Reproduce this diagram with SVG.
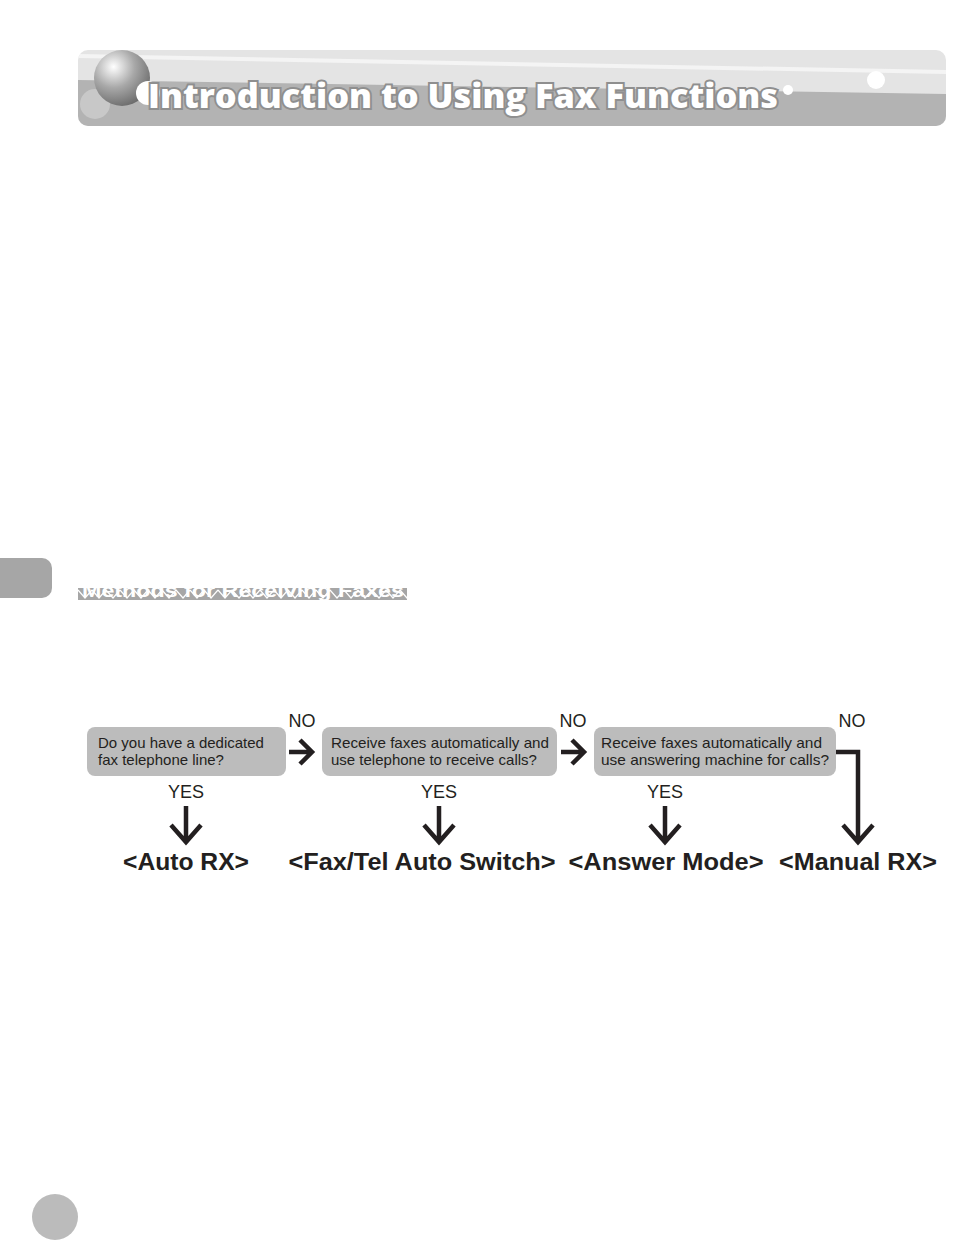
<svg xmlns="http://www.w3.org/2000/svg" width="969" height="1240" viewBox="0 0 969 1240">
<style>
.q{font-family:"Liberation Sans",Arial,sans-serif;font-size:15px;fill:#231f20}
.lbl{font-family:"Liberation Sans",Arial,sans-serif;font-size:18px;fill:#231f20}
.out{font-family:"Liberation Sans",Arial,sans-serif;font-size:23px;font-weight:bold;fill:#231f20}
.box{fill:#bcbcbc}
.arr{fill:none;stroke:#231f20;stroke-width:4.5}
</style>
<defs>
<radialGradient id="sph" cx="0.35" cy="0.3" r="0.75">
<stop offset="0" stop-color="#ffffff"/>
<stop offset="0.5" stop-color="#a8a8a8"/>
<stop offset="1" stop-color="#6a6a6a"/>
</radialGradient>
<clipPath id="bc"><rect x="78" y="50" width="868" height="76" rx="10"/></clipPath>
<pattern id="zz" x="78" y="588" width="14" height="12" patternUnits="userSpaceOnUse">
<rect width="14" height="12" fill="#a6a6a6"/>
<path d="M0 2 L7 10 L14 2" fill="none" stroke="#ffffff" stroke-width="1.2"/>
</pattern>
</defs>
<rect width="969" height="1240" fill="#ffffff"/>
<g id="banner">
<g clip-path="url(#bc)">
<rect x="78" y="50" width="868" height="76" fill="#e4e4e4"/>
<polygon points="78,80 946,94 946,126 78,126" fill="#b3b3b3"/>
<polygon points="78,54 946,70 946,74 78,58" fill="#f4f4f4"/>
</g>
<circle cx="95" cy="104" r="15" fill="#c8c8c8"/>
<circle cx="122" cy="78" r="28" fill="url(#sph)"/>
<circle cx="148" cy="93" r="12" fill="#ffffff"/>
<circle cx="876" cy="80" r="9" fill="#ffffff"/>
<circle cx="788" cy="90" r="5" fill="#ffffff"/>
<text x="148" y="108" textLength="630" lengthAdjust="spacingAndGlyphs" style="font-family:'Open Sans','Liberation Sans',sans-serif;font-size:34px;font-weight:800;fill:#ffffff;stroke:#8f8f8f;stroke-width:4;paint-order:stroke">Introduction to Using Fax Functions</text>
</g>
<g id="tab"><path d="M0 558 H42 A10 10 0 0 1 52 568 V588 A10 10 0 0 1 42 598 H0 Z" fill="#a6a6a6"/></g>
<g id="section-heading">
<rect x="78" y="588" width="329" height="12" fill="url(#zz)"/>
<text x="82" y="597" textLength="322" lengthAdjust="spacingAndGlyphs" style="font-family:'Liberation Sans',Arial,sans-serif;font-size:18px;font-weight:bold;fill:#ffffff">Methods for Receiving Faxes</text>
</g>
<g id="page-circle"><circle cx="55" cy="1217" r="23" fill="#bbbbbb"/></g>
<g id="node-q1">
<rect class="box" x="87" y="727" width="199" height="49" rx="8"/>
<text class="q" x="98" y="748">Do you have a dedicated</text>
<text class="q" x="98" y="765">fax telephone line?</text>
</g>
<g id="node-q2">
<rect class="box" x="322" y="727" width="235" height="49" rx="8"/>
<text class="q" x="331" y="748" textLength="218" lengthAdjust="spacingAndGlyphs">Receive faxes automatically and</text>
<text class="q" x="331" y="765">use telephone to receive calls?</text>
</g>
<g id="node-q3">
<rect class="box" x="594" y="727" width="242" height="49" rx="8"/>
<text class="q" x="601" y="748" textLength="221" lengthAdjust="spacingAndGlyphs">Receive faxes automatically and</text>
<text class="q" x="601" y="765" textLength="228" lengthAdjust="spacingAndGlyphs">use answering machine for calls?</text>
</g>
<g id="node-auto"><text class="out" x="186" y="870" text-anchor="middle" textLength="126" lengthAdjust="spacingAndGlyphs">&lt;Auto RX&gt;</text></g>
<g id="node-faxtel"><text class="out" x="422" y="870" text-anchor="middle" textLength="267" lengthAdjust="spacingAndGlyphs">&lt;Fax/Tel Auto Switch&gt;</text></g>
<g id="node-answer"><text class="out" x="666" y="870" text-anchor="middle" textLength="195" lengthAdjust="spacingAndGlyphs">&lt;Answer Mode&gt;</text></g>
<g id="node-manual"><text class="out" x="858" y="870" text-anchor="middle" textLength="158" lengthAdjust="spacingAndGlyphs">&lt;Manual RX&gt;</text></g>
<g id="connectors">
<path class="arr" d="M289 752 H310 M300 740 L312 752 L300 764"/>
<path class="arr" d="M561 752 H582 M572 740 L584 752 L572 764"/>
<path class="arr" d="M836 752 H858 V842 M843 825 L858 842 L873 825"/>
<path class="arr" d="M186 806 V842 M171 825 L186 842 L201 825"/>
<path class="arr" d="M439 806 V842 M424 825 L439 842 L454 825"/>
<path class="arr" d="M665 806 V842 M650 825 L665 842 L680 825"/>
<text class="lbl" x="302" y="727" text-anchor="middle">NO</text>
<text class="lbl" x="573" y="727" text-anchor="middle">NO</text>
<text class="lbl" x="852" y="727" text-anchor="middle">NO</text>
<text class="lbl" x="186" y="798" text-anchor="middle">YES</text>
<text class="lbl" x="439" y="798" text-anchor="middle">YES</text>
<text class="lbl" x="665" y="798" text-anchor="middle">YES</text>
</g>
</svg>
